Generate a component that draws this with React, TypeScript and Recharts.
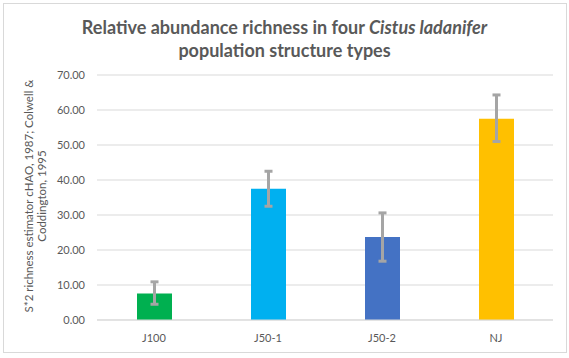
import { BarChart, Bar, XAxis, YAxis, CartesianGrid, Cell, ErrorBar } from 'recharts';

const categories = ['J100', 'J50-1', 'J50-2', 'NJ'];
const richness = [7.6, 37.5, 23.7, 57.5];
const errLow = [3.1, 5.0, 6.9, 6.5];
const errHigh = [3.3, 5.0, 6.9, 6.8];
const barColors = ['#00b050', '#00b0f0', '#4472c4', '#ffc000'];
const yTicks = [0, 10, 20, 30, 40, 50, 60, 70];

const data = categories.map((c, i) => ({
  name: c,
  value: richness[i],
  err: [errLow[i], errHigh[i]],
}));

const font = 'Lato, "Open Sans", sans-serif';

function YLabel() {
  return (
    <text
      transform="translate(33, 196) rotate(-90)"
      textAnchor="middle"
      fill="#595959"
      fontSize={11.5}
      fontFamily={font}
    >
      <tspan x={0} dy={0}>S*2 richness estimator cHAO, 1987; Colwell &amp;</tspan>
      <tspan x={0} dy={13}>Coddington, 1995</tspan>
    </text>
  );
}

export default function App() {
  return (
    <div style={{ position: 'absolute', left: 0, top: 0, width: 569, height: 358, background: '#fff', fontFamily: font }}>
      <div style={{ position: 'absolute', left: 3, top: 3, width: 562, height: 348, border: '1px solid #d9d9d9' }} />
      <div
        style={{
          position: 'absolute', left: 0, top: 16, width: 569, textAlign: 'center',
          color: '#595959', fontWeight: 700, fontSize: 18, lineHeight: '23px',
        }}
      >
        Relative abundance richness in four <i>Cistus ladanifer</i>
        <br />
        population structure types
      </div>
      <div style={{ position: 'absolute', left: 0, top: 0 }}>
        <BarChart width={569} height={358} data={data} margin={{ top: 75, right: 16, bottom: 8, left: 0 }}>
          <CartesianGrid vertical={false} stroke="#d9d9d9" />
          <XAxis
            dataKey="name"
            height={30}
            axisLine={{ stroke: '#d9d9d9' }}
            tickLine={false}
            tickMargin={8}
            tick={{ fill: '#595959', fontSize: 11, fontFamily: font }}
          />
          <YAxis
            width={97}
            domain={[0, 70]}
            ticks={yTicks}
            interval={0}
            axisLine={false}
            tickLine={false}
            tickSize={0}
            tickMargin={12}
            tickFormatter={(v: number) => v.toFixed(2)}
            tick={{ fill: '#595959', fontSize: 11, fontFamily: font }}
            label={<YLabel />}
          />
          <Bar dataKey="value" barSize={35} isAnimationActive={false}>
            {data.map((d, i) => (
              <Cell key={d.name} fill={barColors[i]} />
            ))}
            <ErrorBar dataKey="err" stroke="#a5a5a5" strokeWidth={3} width={4} isAnimationActive={false} />
          </Bar>
        </BarChart>
      </div>
    </div>
  );
}
